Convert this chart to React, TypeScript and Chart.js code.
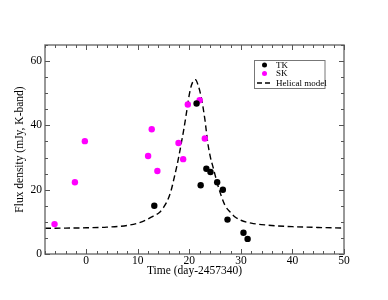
import React, { useEffect, useRef } from "react";
import { Chart, registerables } from "chart.js";

Chart.register(...registerables);

const tkX = [13.2, 21.4, 22.2, 23.3, 24.1, 25.4, 26.5, 27.4, 30.5, 31.3];
const tkY = [15.0, 46.8, 21.4, 26.5, 25.5, 22.3, 20.0, 10.7, 6.6, 4.7];

const skX = [-6.15, -2.2, -0.27, 12.0, 12.7, 13.8, 17.9, 18.8, 19.7, 22.0, 23.0];
const skY = [9.3, 22.3, 35.1, 30.5, 38.8, 25.8, 34.5, 29.5, 46.5, 47.8, 35.9];

const modelX = [-8, -4, 0, 4, 8, 10, 11.5, 13, 14.2, 15, 15.8, 16.5, 17.1, 17.6, 18.1, 18.5, 18.9, 19.4, 20.1, 20.6, 21.2, 21.7, 22.3, 23.0, 23.6, 24.1, 24.6, 25.6, 26.9, 28, 28.8, 30, 32, 35, 40, 45, 50];
const modelY = [8.0, 8.05, 8.15, 8.35, 8.9, 9.6, 10.5, 11.8, 12.9, 14.5, 16.8, 20, 24, 27.5, 31.5, 35, 38.5, 43.5, 50.5, 53.3, 54.2, 52.5, 48.8, 42, 34.3, 30, 27, 21, 15.2, 12.9, 11.6, 10.5, 9.6, 9.0, 8.5, 8.25, 8.05];

const xMajor = [0, 10, 20, 30, 40, 50];
const yMajor = [0, 20, 40, 60];

const legendLabels = ["TK", "SK", "Helical model"];

const FONT = "'Liberation Serif', 'DejaVu Serif', serif";

const framePlugin = {
  id: "frameTicks",
  afterDraw(chart: any) {
    const { ctx, chartArea } = chart;
    const { left, right, top, bottom } = chartArea;
    const xs = chart.scales.x;
    const ys = chart.scales.y;
    ctx.save();
    ctx.strokeStyle = "#777";
    ctx.lineWidth = 1.5;
    ctx.strokeRect(left, top, right - left, bottom - top);
    ctx.lineWidth = 1;
    ctx.strokeStyle = "#555";
    ctx.beginPath();
    for (let v = -8; v <= 50; v += 2) {
      const px = Math.round(xs.getPixelForValue(v)) + 0.5;
      const len = v % 10 === 0 ? 5 : 3;
      ctx.moveTo(px, bottom);
      ctx.lineTo(px, bottom - len);
      ctx.moveTo(px, top);
      ctx.lineTo(px, top + len);
    }
    for (let v = 0; v <= 65; v += 5) {
      const py = Math.round(ys.getPixelForValue(v)) + 0.5;
      const len = v % 20 === 0 ? 5 : 3;
      ctx.moveTo(left, py);
      ctx.lineTo(left + len, py);
      ctx.moveTo(right, py);
      ctx.lineTo(right - len, py);
    }
    ctx.stroke();

    // legend
    const bx = 254, by = 60.5, bw = 70.5, bh = 28;
    ctx.fillStyle = "#fff";
    ctx.fillRect(bx, by, bw, bh);
    ctx.strokeStyle = "#777";
    ctx.lineWidth = 1;
    ctx.strokeRect(bx + 0.5, by, bw, bh);
    ctx.font = `9px ${FONT}`;
    ctx.textBaseline = "middle";
    ctx.textAlign = "left";
    const rows = [65, 73.5, 83];
    ctx.fillStyle = "#000";
    ctx.beginPath();
    ctx.arc(264.5, rows[0], 2.5, 0, Math.PI * 2);
    ctx.fill();
    ctx.fillStyle = "#ff00ff";
    ctx.beginPath();
    ctx.arc(264.5, rows[1], 2.5, 0, Math.PI * 2);
    ctx.fill();
    ctx.strokeStyle = "#000";
    ctx.lineWidth = 1.5;
    ctx.setLineDash([5, 3]);
    ctx.beginPath();
    ctx.moveTo(257, rows[2]);
    ctx.lineTo(271, rows[2]);
    ctx.stroke();
    ctx.setLineDash([]);
    ctx.fillStyle = "#000";
    legendLabels.forEach((t, i) => ctx.fillText(t, 276, rows[i] + 0.5));
    ctx.restore();
  },
};

export default function App() {
  const ref = useRef<HTMLCanvasElement>(null);
  useEffect(() => {
    document.body.style.margin = "0";
    const chart = new Chart(ref.current as HTMLCanvasElement, {
      type: "scatter",
      data: {
        datasets: [
          {
            label: "TK",
            data: tkX.map((x, i) => ({ x, y: tkY[i] })),
            backgroundColor: "#000",
            borderColor: "#000",
            pointRadius: 3.2,
            borderWidth: 0,
          },
          {
            label: "SK",
            data: skX.map((x, i) => ({ x, y: skY[i] })),
            backgroundColor: "#ff00ff",
            borderColor: "#ff00ff",
            pointRadius: 3.2,
            borderWidth: 0,
          },
          {
            label: "Helical model",
            data: modelX.map((x, i) => ({ x, y: modelY[i] })),
            showLine: true,
            borderColor: "#000",
            borderWidth: 1.4,
            borderDash: [6, 3.5],
            pointRadius: 0,
            cubicInterpolationMode: "monotone",
          } as any,
        ],
      },
      options: {
        animation: false,
        responsive: false,
        maintainAspectRatio: false,
        layout: { padding: { top: 45, right: 44, left: 0, bottom: 0 } },
        plugins: { legend: { display: false }, tooltip: { enabled: false } },
        scales: {
          x: {
            type: "linear",
            min: -8,
            max: 50,
            grid: { display: false, drawTicks: false, tickLength: 0 },
            border: { display: false },
            afterBuildTicks: (s: any) => {
              s.ticks = xMajor.map((v) => ({ value: v }));
            },
            afterFit: (s: any) => {
              s.height = 46;
            },
            ticks: { padding: 0, color: "#000", font: { family: FONT, size: 11.5 }, maxRotation: 0 },
            title: {
              display: true,
              text: "Time (day-2457340)",
              color: "#000",
              font: { family: FONT, size: 11.5 },
              padding: { top: 0, bottom: 22 },
            },
          },
          y: {
            type: "linear",
            min: 0,
            max: 65,
            grid: { display: false, drawTicks: false, tickLength: 0 },
            border: { display: false },
            afterBuildTicks: (s: any) => {
              s.ticks = yMajor.map((v) => ({ value: v }));
            },
            afterFit: (s: any) => {
              s.width = 45;
            },
            ticks: { padding: 3, color: "#000", font: { family: FONT, size: 11.5 } },
            title: {
              display: true,
              text: "Flux density (mJy, K-band)",
              color: "#000",
              font: { family: FONT, size: 11.5 },
              padding: { top: 13, bottom: 0 },
            },
          },
        },
      },
      plugins: [framePlugin],
    });
    return () => chart.destroy();
  }, []);
  return (
    <div style={{ width: 388, height: 300 }}>
      <canvas ref={ref} width={388} height={300} />
    </div>
  );
}
